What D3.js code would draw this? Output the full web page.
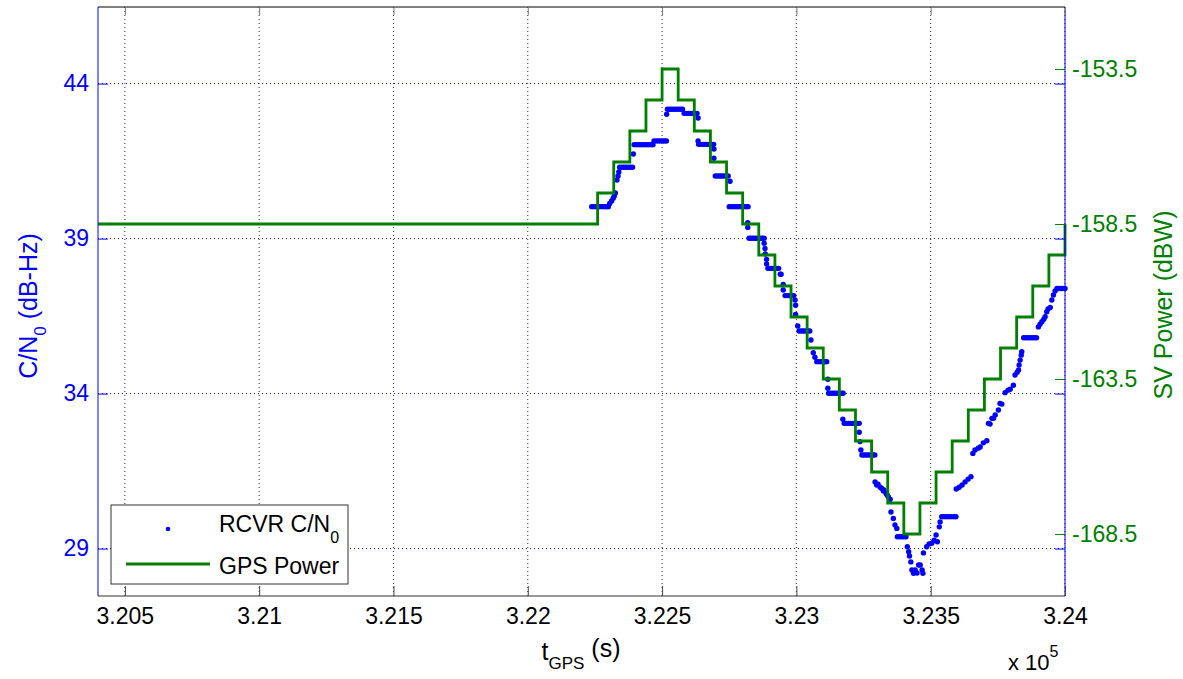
<!DOCTYPE html>
<html>
<head>
<meta charset="utf-8">
<script src="https://cdn.jsdelivr.net/npm/d3@7"></script>
<style>
  body { margin: 0; background: #fff; }
  text { font-family: "Liberation Sans", Arial, sans-serif; }
</style>
</head>
<body>
<div id="chartbox"></div>
<script>
// GPS transmitted power (dBW), step changes every minute
var powerTime = [320400, 322260, 322320, 322380, 322440, 322500, 322560, 322620, 322680, 322740,
  322800, 322860, 322920, 322980, 323040, 323100, 323160, 323220, 323280, 323340,
  323400, 323460, 323520, 323580, 323640, 323700, 323760, 323820, 323880, 323940, 324000];
var powerDbw = [-158.5, -157.5, -156.5, -155.5, -154.5, -153.5, -154.5, -155.5, -156.5, -157.5,
  -158.5, -159.5, -160.5, -161.5, -162.5, -163.5, -164.5, -165.5, -166.5, -167.5,
  -168.5, -167.5, -166.5, -165.5, -164.5, -163.5, -162.5, -161.5, -160.5, -159.5, -158.5];

// receiver C/N0 samples (dB-Hz)
var cnoTime = [
  322238, 322246, 322254, 322262, 322270, 322278, 322286, 322294, 322300,
  322305, 322312, 322318, 322322, 322326, 322332, 322336, 322339,
  322342, 322350, 322358, 322366, 322374, 322382, 322390, 322393,
  322396, 322404, 322412, 322420, 322428, 322436, 322444, 322452, 322460, 322466,
  322470, 322478, 322486, 322494, 322502, 322510, 322516, 322517,
  322520, 322528, 322536, 322544, 322552, 322560, 322568, 322576,
  322582, 322590, 322598, 322606, 322614, 322622, 322630, 322634, 322634,
  322636, 322644, 322652, 322660, 322668, 322676, 322684, 322692, 322693, 322693,
  322698, 322706, 322714, 322722, 322730, 322738, 322746, 322753,
  322750, 322758, 322766, 322774, 322782, 322790, 322798, 322806, 322814, 322820, 322819, 322819,
  322824, 322832, 322840, 322848, 322856, 322864, 322872, 322880,
  322880, 322883, 322884, 322889, 322889,
  322894, 322902, 322910, 322918, 322926, 322934, 322940, 322943, 322951, 322951,
  322958, 322966, 322974, 322982, 322990, 322995, 322997, 322997, 323005,
  323010, 323018, 323026, 323034, 323042, 323050, 323054, 323063, 323069,
  323076, 323084, 323092, 323100, 323108, 323113, 323117, 323117,
  323120, 323128, 323136, 323144, 323152, 323160, 323168, 323174, 323173,
  323178, 323186, 323194, 323202, 323210, 323218, 323226, 323234,
  323234, 323237, 323240,
  323244, 323252, 323260, 323268, 323276, 323284, 323292,
  323293, 323299, 323304, 323312, 323318, 323324, 323326, 323334, 323338, 323342, 323349,
  323352, 323361, 323367, 323374,
  323376, 323384, 323392, 323400, 323408,
  323413, 323418, 323421, 323426, 323430, 323436, 323442, 323449, 323455, 323461, 323468, 323471,
  323473, 323485, 323494, 323504, 323513, 323520, 323525, 323532, 323535, 323541,
  323548, 323556, 323564, 323572, 323580, 323588, 323594,
  323595, 323606, 323617, 323628, 323639, 323650,
  323657, 323665, 323677, 323684, 323696, 323709,
  323715, 323721, 323728, 323734, 323740, 323752, 323758, 323765,
  323777, 323788, 323796, 323808, 323814, 323822, 323827, 323829, 323833, 323837, 323839,
  323846, 323854, 323862, 323870, 323878, 323886, 323894,
  323901, 323907, 323914, 323921, 323926, 323932, 323937, 323945, 323951, 323957, 323963, 323970,
  323976, 323984, 323992, 324000
];
var cnoDbHz = [
  40.03, 40.03, 40.03, 40.03, 40.03, 40.03, 40.03, 40.03, 40.03,
  40.13, 40.21, 40.30, 40.37, 40.47, 40.89, 41.02, 41.15,
  41.30, 41.30, 41.30, 41.30, 41.30, 41.30, 41.30, 41.73,
  42.03, 42.03, 42.03, 42.03, 42.03, 42.03, 42.03, 42.03, 42.03, 42.03,
  42.15, 42.15, 42.15, 42.15, 42.15, 42.15, 42.15, 43.01,
  43.17, 43.17, 43.17, 43.17, 43.17, 43.17, 43.17, 43.17,
  43.04, 43.04, 43.04, 43.04, 43.04, 43.04, 43.04, 42.89, 42.15,
  42.04, 42.04, 42.04, 42.04, 42.04, 42.04, 42.04, 42.04, 41.89, 41.59,
  41.02, 41.02, 41.02, 41.02, 41.02, 41.02, 41.02, 40.85,
  40.03, 40.03, 40.03, 40.03, 40.03, 40.03, 40.03, 40.03, 40.03, 40.03, 39.51, 39.36,
  39.01, 39.01, 39.01, 39.01, 39.01, 39.01, 39.01, 39.01,
  38.85, 38.68, 38.50, 38.33, 38.18,
  38.04, 38.04, 38.04, 38.04, 38.04, 38.04, 37.85, 37.85, 37.52, 37.34,
  37.16, 37.16, 37.16, 37.16, 37.16, 37.02, 36.85, 36.55, 36.18,
  36.02, 36.02, 36.02, 36.02, 36.02, 36.02, 35.73, 35.32, 35.17,
  35.03, 35.03, 35.03, 35.03, 35.03, 35.03, 34.46, 34.17,
  34.01, 34.01, 34.01, 34.01, 34.01, 34.01, 34.01, 34.01, 33.17,
  33.04, 33.04, 33.04, 33.04, 33.04, 33.04, 33.04, 33.04,
  32.75, 32.45, 32.18,
  32.02, 32.02, 32.02, 32.02, 32.02, 32.02, 32.02,
  31.15, 31.05, 31.08, 30.98, 30.94, 30.86, 30.89, 30.78, 30.73, 30.67, 30.59,
  30.18, 29.97, 29.76, 29.65,
  29.38, 29.38, 29.38, 29.38, 29.38,
  29.06, 28.90, 28.76, 28.57, 28.31, 28.20, 28.31, 28.21, 28.47, 28.47, 28.31, 28.20,
  28.86, 29.06, 29.15, 29.17, 29.27, 29.44, 29.22, 29.70, 29.86, 30.03,
  30.03, 30.03, 30.03, 30.03, 30.03, 30.03, 30.03,
  30.92, 30.98, 31.05, 31.15, 31.24, 31.32,
  32.07, 32.18, 32.24, 32.28, 32.41, 32.48,
  33.04, 33.02, 33.20, 33.20, 33.31, 33.47, 33.68, 33.66,
  34.03, 34.11, 34.14, 34.27, 34.60, 34.69, 34.76, 34.92, 35.08, 35.24, 35.35,
  35.80, 35.80, 35.80, 35.80, 35.80, 35.80, 35.80,
  36.15, 36.24, 36.32, 36.40, 36.48, 36.64, 36.73, 36.78, 37.02, 37.18, 37.31, 37.39,
  37.39, 37.39, 37.39, 37.39
];

var xTicks = [320500, 321000, 321500, 322000, 322500, 323000, 323500, 324000];
var leftTicks = [29, 34, 39, 44];
var rightTicks = [-168.5, -163.5, -158.5, -153.5];

var blue = '#0000ff', green = '#007f00';
var margin = { top: 7, right: 118, bottom: 83, left: 98 },
    width = 1183 - margin.left - margin.right,
    height = 679 - margin.top - margin.bottom;

var svg = d3.select('#chartbox').append('svg')
    .attr('width', 1183)
    .attr('height', 679);
var g = svg.append('g')
    .attr('transform', 'translate(' + [margin.left, margin.top] + ')');

var x = d3.scaleLinear().domain([320400, 324000]).range([0, width]);
var yL = d3.scaleLinear().domain([27.47, 46.47]).range([height, 0]);
var yR = d3.scaleLinear().domain([-170.5, -151.5]).range([height, 0]);

// grid
g.selectAll('.vgrid').data(xTicks).enter().append('line')
    .attr('x1', d => x(d)).attr('x2', d => x(d))
    .attr('y1', 0).attr('y2', height)
    .attr('stroke', '#333').attr('stroke-width', 1).attr('stroke-dasharray', '1,3');
g.selectAll('.hgrid').data(leftTicks).enter().append('line')
    .attr('x1', 0).attr('x2', width)
    .attr('y1', d => yL(d)).attr('y2', d => yL(d))
    .attr('stroke', blue).attr('stroke-width', 1).attr('stroke-dasharray', '1,3');

// data
g.append('g').selectAll('circle')
    .data(cnoTime.map((t, i) => [t, cnoDbHz[i]]))
    .enter().append('circle')
    .attr('cx', d => x(d[0]))
    .attr('cy', d => yL(d[1]))
    .attr('r', 2.7)
    .attr('fill', blue);

var powerLine = d3.line()
    .x(d => x(d[0]))
    .y(d => yR(d[1]))
    .curve(d3.curveStepAfter);
g.append('path')
    .datum(powerTime.map((t, i) => [t, powerDbw[i]]))
    .attr('d', powerLine)
    .attr('fill', 'none')
    .attr('stroke', green)
    .attr('stroke-width', 2.8);

// axes frame and ticks
var frame = g.append('g');
frame.append('line').attr('x1', 0).attr('x2', width).attr('y1', 0).attr('y2', 0).attr('stroke', '#000');
frame.append('line').attr('x1', 0).attr('x2', width).attr('y1', height).attr('y2', height).attr('stroke', '#333');
frame.append('line').attr('x1', 0).attr('x2', 0).attr('y1', 0).attr('y2', height).attr('stroke', blue);
frame.append('line').attr('x1', width).attr('x2', width).attr('y1', 0).attr('y2', height).attr('stroke', blue);

var xAxis = g.append('g')
    .attr('transform', 'translate(0,' + height + ')')
    .call(d3.axisBottom(x).tickValues(xTicks).tickSizeInner(-10).tickSizeOuter(0).tickPadding(12)
      .tickFormat(d => String(+(d / 1e5).toFixed(4))));
xAxis.select('.domain').remove();
xAxis.selectAll('line').attr('stroke', '#444');
xAxis.selectAll('text').attr('fill', '#000').style('font-size', '23px');

var xTop = g.append('g')
    .call(d3.axisTop(x).tickValues(xTicks).tickSizeInner(-8).tickSizeOuter(0).tickFormat(''));
xTop.select('.domain').remove();
xTop.selectAll('line').attr('stroke', '#777');

var yAxisL = g.append('g')
    .call(d3.axisLeft(yL).tickValues(leftTicks).tickSizeInner(-10).tickSizeOuter(0).tickPadding(9));
yAxisL.select('.domain').remove();
yAxisL.selectAll('line').attr('stroke', blue);
yAxisL.selectAll('text').attr('fill', blue).style('font-size', '23px');

var yBoxR = g.append('g')
    .attr('transform', 'translate(' + width + ',0)')
    .call(d3.axisRight(yL).tickValues(leftTicks).tickSizeInner(-10).tickSizeOuter(0).tickFormat(''));
yBoxR.select('.domain').remove();
yBoxR.selectAll('line').attr('stroke', blue);

var yAxisR = g.append('g')
    .attr('transform', 'translate(' + width + ',0)')
    .call(d3.axisRight(yR).tickValues(rightTicks).tickSizeInner(-10).tickSizeOuter(0).tickPadding(7)
      .tickFormat(d => '-' + Math.abs(d).toFixed(1)));
yAxisR.select('.domain').remove();
yAxisR.selectAll('line').attr('stroke', green);
yAxisR.selectAll('text').attr('fill', green).style('font-size', '23px');

// axis titles
var tl = svg.append('text')
    .attr('transform', 'translate(37,' + 306 + ') rotate(-90)')
    .attr('text-anchor', 'middle')
    .attr('fill', blue)
    .style('font-size', '25px');
tl.append('tspan').text('C/N');
tl.append('tspan').attr('dy', 9).style('font-size', '17px').text('0');
tl.append('tspan').attr('dy', -9).text(' (dB-Hz)');

svg.append('text')
    .attr('transform', 'translate(1172,' + 305 + ') rotate(-90)')
    .attr('text-anchor', 'middle')
    .attr('fill', green)
    .style('font-size', '25px')
    .text('SV Power (dBW)');

var tb = svg.append('text')
    .attr('x', 581).attr('y', 660)
    .attr('text-anchor', 'middle')
    .attr('fill', '#000')
    .style('font-size', '25px');
tb.append('tspan').text('t');
tb.append('tspan').attr('dy', 9).style('font-size', '17px').text('GPS');
tb.append('tspan').attr('dy', -12).text(' (s)');

var ex = svg.append('text')
    .attr('x', 1008).attr('y', 670)
    .attr('fill', '#000')
    .style('font-size', '22px');
ex.append('tspan').text('x 10');
ex.append('tspan').attr('dy', -13).style('font-size', '16px').text('5');

// legend
var lg = svg.append('g');
lg.append('rect')
    .attr('x', 111).attr('y', 505).attr('width', 237).attr('height', 79)
    .attr('fill', '#fff').attr('stroke', '#333');
lg.append('circle').attr('cx', 168).attr('cy', 529).attr('r', 2.3).attr('fill', blue);
lg.append('line').attr('x1', 126).attr('x2', 210).attr('y1', 564).attr('y2', 564)
    .attr('stroke', green).attr('stroke-width', 2.8);
var l1 = lg.append('text').attr('x', 219).attr('y', 532).style('font-size', '23px');
l1.append('tspan').text('RCVR C/N');
l1.append('tspan').attr('dy', 11).style('font-size', '16px').text('0');
lg.append('text').attr('x', 219).attr('y', 574).style('font-size', '23px').text('GPS Power');
</script>
</body>
</html>
